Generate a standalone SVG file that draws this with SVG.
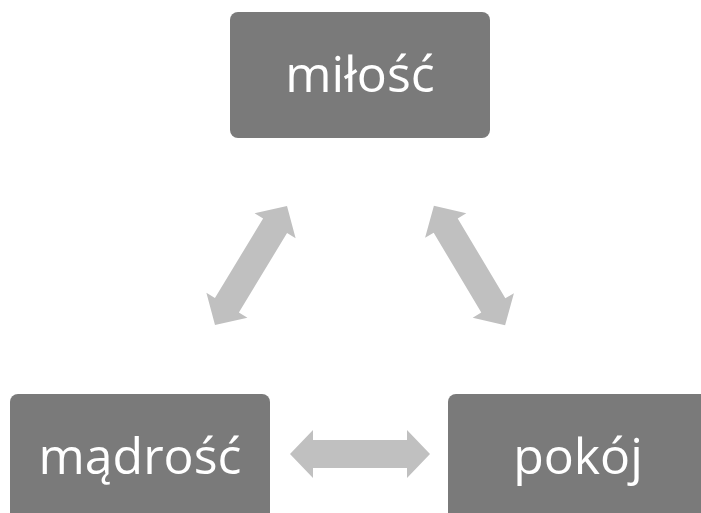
<svg xmlns="http://www.w3.org/2000/svg" width="701" height="513" viewBox="0 0 701 513">
<defs>
<style>
.box{fill:#7a7a7a;}
.lbl{fill:#ffffff;font-family:"Open Sans","Noto Sans",sans-serif;font-size:50px;text-anchor:middle;}
.arr{fill:#c0c0c0;}
</style>
</defs>
<rect width="701" height="513" fill="#ffffff"/>
<g id="connectors">
<polygon class="arr" points="-70,0 -47,-24 -47,-14 47,-14 47,-24 70,0 47,24 47,14 -47,14 -47,24" transform="translate(360,454)"/>
<polygon class="arr" points="-69.5,0 -46.5,-24 -46.5,-14 46.5,-14 46.5,-24 69.5,0 46.5,24 46.5,14 -46.5,14 -46.5,24" transform="translate(251,265.5) rotate(-58.8)"/>
<polygon class="arr" points="-69.5,0 -46.5,-24 -46.5,-14 46.5,-14 46.5,-24 69.5,0 46.5,24 46.5,14 -46.5,14 -46.5,24" transform="translate(469.5,265.5) rotate(59.2)"/>
</g>
<g id="node-milosc">
<rect class="box" x="230" y="12" width="260" height="126" rx="8"/>
<text class="lbl" x="360" y="92">miłość</text>
</g>
<g id="node-madrosc">
<rect class="box" x="10" y="394" width="260" height="130" rx="8"/>
<text class="lbl" x="140" y="474">mądrość</text>
</g>
<g id="node-pokoj">
<rect class="box" x="448" y="394" width="270" height="130" rx="8"/>
<text class="lbl" x="578" y="474">pokój</text>
</g>
</svg>
